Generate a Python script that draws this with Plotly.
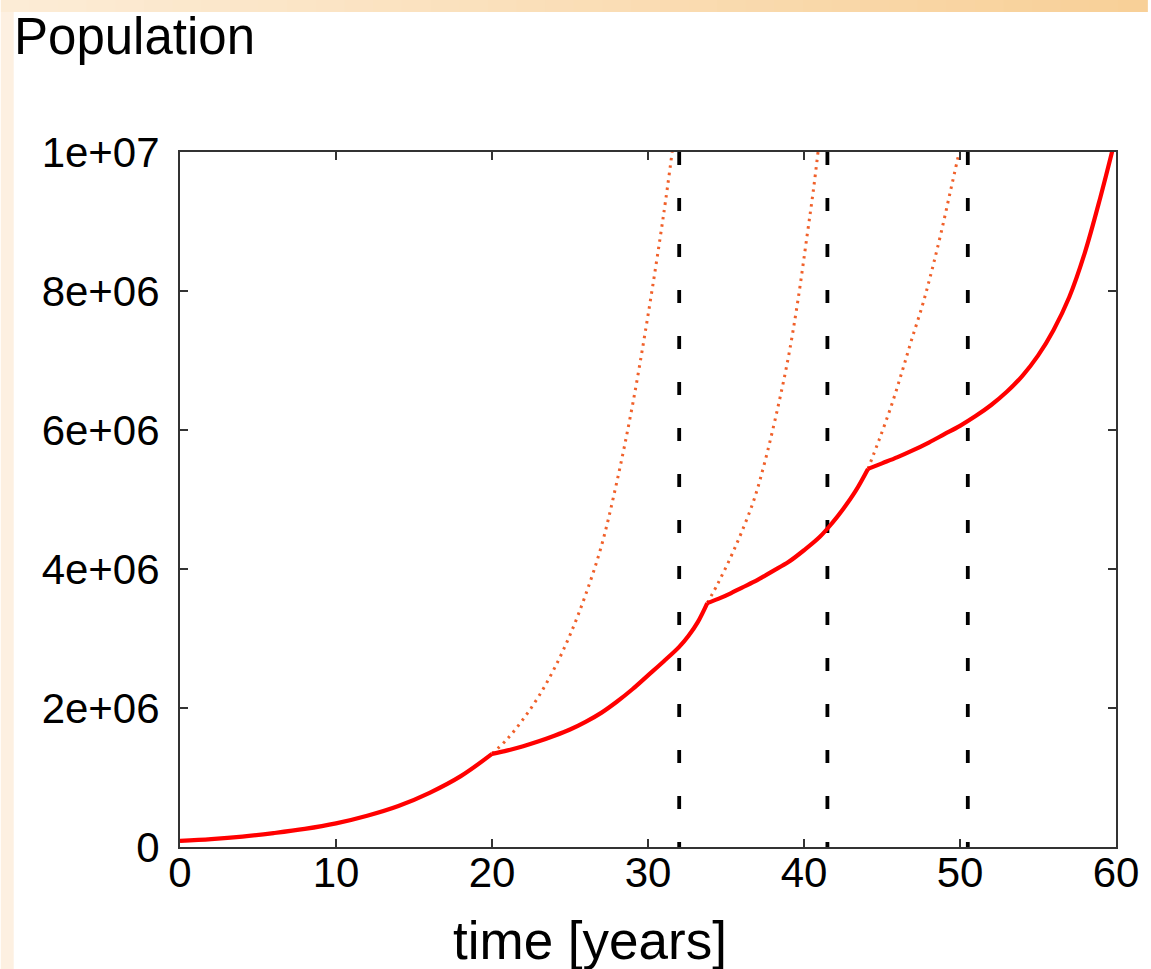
import plotly.graph_objects as go

# ---- data ----
seg1_t = [0, 2, 4, 6, 8, 10, 12, 14, 16, 18, 20.0]
seg1_v = [0.087e6, 0.113e6, 0.150e6, 0.20e6, 0.26e6, 0.34e6, 0.45e6, 0.59e6, 0.78e6, 1.02e6, 1.34e6]

seg2_t = [20.0, 21, 22, 23, 24, 25, 26, 27, 28, 29, 30, 31, 32, 32.6, 33.2, 33.8]
seg2_v = [1.34e6, 1.39e6, 1.45e6, 1.52e6, 1.60e6, 1.69e6, 1.80e6, 1.93e6, 2.09e6, 2.27e6,
          2.47e6, 2.67e6, 2.88e6, 3.04e6, 3.24e6, 3.51e6]

seg3_t = [33.8, 34.5, 35.3, 36, 37, 38, 39, 40, 41, 41.8, 42.5, 43.3, 44.1]
seg3_v = [3.51e6, 3.57e6, 3.65e6, 3.73e6, 3.84e6, 3.97e6, 4.10e6, 4.27e6, 4.46e6, 4.66e6,
          4.86e6, 5.12e6, 5.44e6]

seg4_t = [44.1, 45, 46, 47, 48, 49, 50, 51, 52, 53, 54, 55, 56, 57, 58, 59, 59.8]
seg4_v = [5.44e6, 5.52e6, 5.61e6, 5.71e6, 5.82e6, 5.94e6, 6.06e6, 6.20e6, 6.36e6, 6.55e6,
          6.78e6, 7.07e6, 7.44e6, 7.91e6, 8.55e6, 9.35e6, 10.05e6]

dot1_t = [20.0, 21, 22, 23, 24, 25, 26, 27, 28, 29, 30, 31, 31.55]
dot1_v = [1.34e6, 1.56e6, 1.84e6, 2.17e6, 2.57e6, 3.05e6, 3.63e6, 4.32e6, 5.25e6, 6.35e6,
          7.65e6, 9.1e6, 10.0e6]

dot2_t = [33.8, 34.5, 35.3, 36, 36.8, 37.5, 38.3, 39, 39.6, 40.2, 40.6, 40.9]
dot2_v = [3.51e6, 3.80e6, 4.17e6, 4.53e6, 5.0e6, 5.55e6, 6.3e6, 7.05e6, 7.85e6, 8.8e6,
          9.45e6, 10.0e6]

dot3_t = [44.1, 44.8, 45.6, 46.3, 46.9, 47.6, 48.2, 48.8, 49.4, 49.95]
dot3_v = [5.44e6, 5.85e6, 6.35e6, 6.85e6, 7.3e6, 7.8e6, 8.3e6, 8.85e6, 9.45e6, 10.0e6]

vlines_t = [32.0, 41.5, 50.5]

x_ticks = [0, 10, 20, 30, 40, 50, 60]
y_ticks = [0, 2e6, 4e6, 6e6, 8e6, 1e7]
y_ticklabels = ["0", "2e+06", "4e+06", "6e+06", "8e+06", "1e+07"]

FONT = "Liberation Sans, Arial, Helvetica, sans-serif"
RED = "#FF0000"
ORANGE = "#F0602A"

fig = go.Figure()

for t, v in [(dot1_t, dot1_v), (dot2_t, dot2_v), (dot3_t, dot3_v)]:
    fig.add_trace(go.Scatter(x=t, y=v, mode="lines",
                             line=dict(color=ORANGE, width=3, dash="2.5px,5px", shape="spline", smoothing=1),
                             hoverinfo="skip", showlegend=False))

for t in vlines_t:
    fig.add_trace(go.Scatter(x=[t, t], y=[y_ticks[-1], y_ticks[0]], mode="lines",
                             line=dict(color="black", width=3.8, dash="13px,33px"),
                             hoverinfo="skip", showlegend=False))

for t, v in [(seg1_t, seg1_v), (seg2_t, seg2_v), (seg3_t, seg3_v), (seg4_t, seg4_v)]:
    fig.add_trace(go.Scatter(x=t, y=v, mode="lines",
                             line=dict(color=RED, width=4.2, shape="spline", smoothing=1),
                             showlegend=False))

# background strips (slide-style border)
W, H = 1151, 969
L, R, T, B = 180, 31, 152, 122
pw, ph = W - L - R, H - T - B
def px(xp): return (xp - L) / pw
def py(yp): return (H - B - yp) / ph

shapes = []
n = 40
c0 = (252, 236, 214)
c1 = (248, 208, 152)
for i in range(n):
    f = i / (n - 1)
    col = "rgb(%d,%d,%d)" % tuple(int(round(a + (b - a) * f)) for a, b in zip(c0, c1))
    shapes.append(dict(type="rect", xref="paper", yref="paper", layer="below",
                       x0=px(W * i / n), x1=px(W * (i + 1) / n + 1), y0=py(12), y1=py(0),
                       fillcolor=col, line=dict(width=0)))
shapes.append(dict(type="rect", xref="paper", yref="paper", layer="below",
                   x0=px(0), x1=px(13), y0=py(H), y1=py(12),
                   fillcolor="rgb(253,240,225)", line=dict(width=0)))

axis_common = dict(showline=True, linecolor="#333333", linewidth=2, mirror="ticks",
                   ticks="inside", ticklen=8, tickwidth=1.5, tickcolor="#333333",
                   showgrid=False, zeroline=False,
                   tickfont=dict(family=FONT, size=42, color="black"))

fig.update_layout(
    width=W, height=H,
    margin=dict(l=L, r=R, t=T, b=B),
    paper_bgcolor="white", plot_bgcolor="white",
    shapes=shapes,
    xaxis=dict(range=[0, 60], tickvals=x_ticks, ticktext=[str(v) for v in x_ticks],
               ticklabelstandoff=-12, **axis_common),
    yaxis=dict(range=[0, 1e7], tickvals=y_ticks, ticktext=y_ticklabels,
               ticklabelstandoff=10, **axis_common),
    annotations=[
        dict(text="Population", xref="paper", yref="paper", x=px(11), y=py(36),
             xanchor="left", yanchor="middle", showarrow=False,
             font=dict(family=FONT, size=51, color="black")),
        dict(text="time [years]", xref="paper", yref="paper", x=px(592), y=py(940),
             xanchor="center", yanchor="middle", showarrow=False,
             font=dict(family=FONT, size=53, color="black")),
    ],
)

fig.write_html("out.html")
